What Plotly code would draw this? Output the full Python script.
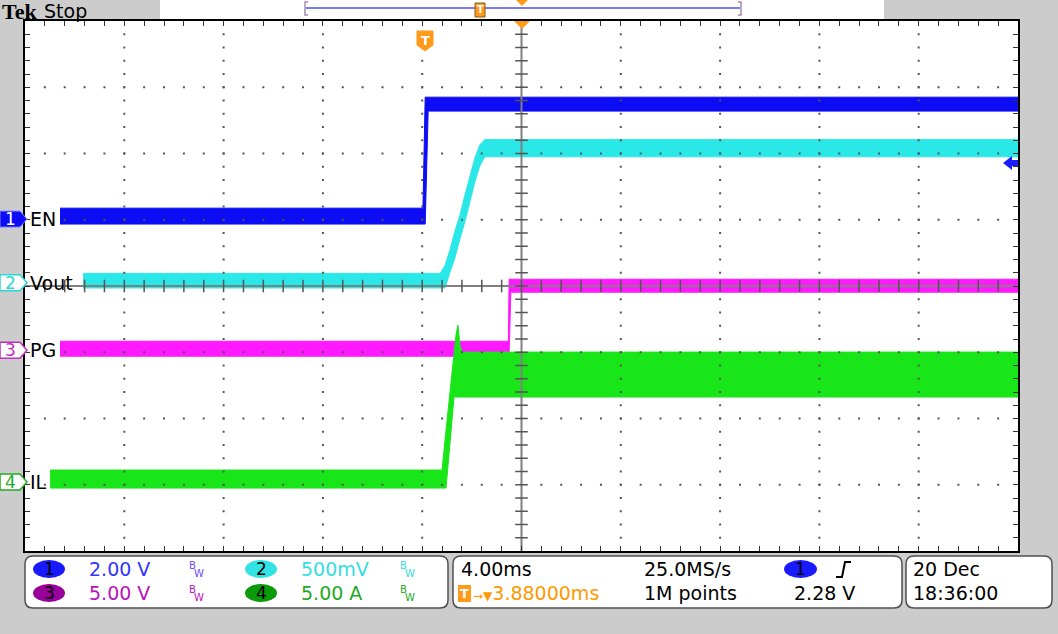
import numpy as np
import plotly.graph_objects as go

# ---------------- data (time in ms relative to trigger) ----------------
EN_t = [-14.71, -0.09, 0.0, 0.12, 23.88]
EN_hi = [0.33, 0.33, 3.68, 3.68, 3.68]
EN_lo = [-0.15, -0.15, -0.15, 3.26, 3.26]

VOUT_t = [-13.78, 0.6, 0.8, 1.0, 1.2, 1.4, 1.6, 1.8, 2.0, 2.2, 2.4, 23.88]
VOUT_hi = [0.07, 0.07, 0.13, 0.25, 0.39, 0.51, 0.66, 0.81, 0.94, 1.04, 1.08, 1.08]
VOUT_lo = [-0.04, -0.04, -0.04, 0.08, 0.19, 0.33, 0.46, 0.60, 0.76, 0.88, 0.95, 0.95]

PG_t = [-14.71, 3.35, 3.38, 3.45, 23.88]
PG_hi = [0.68, 0.68, 5.36, 5.36, 5.36]
PG_lo = [-0.45, -0.45, -0.45, 4.38, 4.38]

IL_t = [-15.11, 0.68, 0.84, 1.0, 1.16, 1.24, 1.32, 1.40, 1.48, 23.88]
IL_hi = [0.91, 0.91, 3.92, 6.94, 9.96, 11.09, 11.85, 10.34, 9.81, 9.81]
IL_lo = [-0.45, -0.45, -0.45, 2.94, 6.42, 6.42, 6.42, 6.42, 6.42, 6.42]

CH_NAMES = ["EN", "Vout", "PG", "IL"]
CH_SCALE = [2.0, 0.5, 5.0, 5.0]          # units per division
CH_GND = [1.01, 0.05, -0.97, -2.96]      # ground marker position, divisions
CH_COLORS = ["#0c0cf5", "#2ae8e8", "#ff19ff", "#19e619"]
SCALE_LABELS = ["2.00 V", "500mV", "5.00 V", "5.00 A"]
SCALE_COLORS = ["#3333ff", "#33dede", "#bb11bb", "#22aa22"]
BADGE_COLORS = ["#1a1aff", "#33e3e3", "#990099", "#0a9a0a"]

TIME_DIV = 4.0
T_CENTER = 3.88
H_DIVS, V_DIVS = 10, 8

HSCALE = "4.00ms"
SAMPLE = "25.0MS/s"
POINTS = "1M points"
TRIG_LEVEL = "2.28 V"
TRIG_POS = "3.88000ms"
DATE = "20 Dec"
TIME = "18:36:00"

# ---------------- geometry helpers ----------------
W, H = 1058, 634
L, R, T, B = 25, 1018, 21, 551


def px(x):
    return (x - L) / (R - L)


def py(y):
    return (B - y) / (B - T)


x_range = [T_CENTER - TIME_DIV * H_DIVS / 2, T_CENTER + TIME_DIV * H_DIVS / 2]
AXES = ["y", "y2", "y3", "y4"]          # EN on the base axis, others overlaid


def div_to_il(d):
    return (np.asarray(d, dtype=float) - CH_GND[3]) * CH_SCALE[3]


fig = go.Figure()

channels = [(EN_t, EN_hi, EN_lo), (VOUT_t, VOUT_hi, VOUT_lo),
            (PG_t, PG_hi, PG_lo), (IL_t, IL_hi, IL_lo)]
for i, (tt, hi, lo) in enumerate(channels):
    fig.add_trace(go.Scatter(
        x=list(tt) + list(tt[::-1]), y=list(hi) + list(lo[::-1]),
        fill="toself", fillcolor=CH_COLORS[i], mode="lines",
        line=dict(color=CH_COLORS[i], width=1),
        yaxis=AXES[i], hoverinfo="skip", name=CH_NAMES[i]))

# graticule dots (drawn above traces on the top overlay axis)
gx, gy = [], []
for k in range(-4, 5):
    if k == 0:
        continue
    xs = T_CENTER + k * TIME_DIV
    for yv in np.arange(-3.8, 3.81, 0.2):
        gx.append(xs); gy.append(yv)
for k in range(-3, 4):
    if k == 0:
        continue
    for xv in np.arange(x_range[0] + 0.8, x_range[1] - 0.1, 0.8):
        gx.append(xv); gy.append(k)
fig.add_trace(go.Scatter(x=gx, y=div_to_il(gy), mode="markers", yaxis="y4",
                         marker=dict(symbol="square", size=2, color="#555555"),
                         hoverinfo="skip"))

# crosshair
fig.add_trace(go.Scatter(x=[T_CENTER, T_CENTER], y=div_to_il([-4, 4]), mode="lines", yaxis="y4",
                         line=dict(color="#808080", width=2), hoverinfo="skip"))
fig.add_trace(go.Scatter(x=x_range, y=div_to_il([0, 0]), mode="lines", yaxis="y4",
                         line=dict(color="#808080", width=2), hoverinfo="skip"))
hx = list(np.arange(x_range[0] + 0.8, x_range[1] - 0.1, 0.8))
fig.add_trace(go.Scatter(x=hx, y=div_to_il([0] * len(hx)), mode="markers", yaxis="y4",
                         marker=dict(symbol="line-ns", size=9, line=dict(width=1.5, color="#555555")),
                         hoverinfo="skip"))
vy = list(np.arange(-3.8, 3.81, 0.2))
fig.add_trace(go.Scatter(x=[T_CENTER] * len(vy), y=div_to_il(vy), mode="markers", yaxis="y4",
                         marker=dict(symbol="line-ew", size=9, line=dict(width=1.5, color="#555555")),
                         hoverinfo="skip"))

shapes = []
ann = []


def rrect(x0, y0, x1, y1, r):
    rx = r / (R - L)
    ry = r / (B - T)
    X0, X1, Y0, Y1 = px(x0), px(x1), py(y1), py(y0)
    return (f"M {X0+rx},{Y0} L {X1-rx},{Y0} Q {X1},{Y0} {X1},{Y0+ry} "
            f"L {X1},{Y1-ry} Q {X1},{Y1} {X1-rx},{Y1} L {X0+rx},{Y1} "
            f"Q {X0},{Y1} {X0},{Y1-ry} L {X0},{Y0+ry} Q {X0},{Y0} {X0+rx},{Y0} Z")


def poly(pts):
    s = "M " + " L ".join(f"{px(a)},{py(b)}" for a, b in pts) + " Z"
    return s


def text(x, y, s, size=19, color="black", family="DejaVu Sans", anchor="left", yanchor="middle"):
    ann.append(dict(x=px(x), y=py(y), xref="paper", yref="paper", text=s, showarrow=False,
                    xanchor=anchor, yanchor=yanchor, borderpad=0,
                    font=dict(size=size, color=color, family=family)))


# top white strip
shapes.append(dict(type="rect", xref="paper", yref="paper", x0=px(160), x1=px(884),
                   y0=py(21), y1=py(0), fillcolor="white", line=dict(width=0), layer="below"))
text(1, 11, "<b>Tek</b>", size=22, family="Liberation Serif")
text(43, 11, "Stop", size=19)

# record view
shapes.append(dict(type="line", xref="paper", yref="paper", x0=px(306), x1=px(740), y0=py(8), y1=py(8),
                   line=dict(color="#7b7bef", width=2)))
for xb, d in [(305, 3), (741, -3)]:
    shapes.append(dict(type="path", xref="paper", yref="paper",
                       path=f"M {px(xb+d)},{py(2)} L {px(xb)},{py(2)} L {px(xb)},{py(15)} L {px(xb+d)},{py(15)}",
                       line=dict(color="#a090b0", width=1.5)))
shapes.append(dict(type="rect", xref="paper", yref="paper", x0=px(475), x1=px(485), y0=py(17), y1=py(3),
                   fillcolor="#ff9a1a", line=dict(color="#8a5a10", width=1)))
text(480, 10, "<b>T</b>", size=10, color="white", anchor="center")
shapes.append(dict(type="path", xref="paper", yref="paper", path=poly([(516, 0), (528, 0), (522, 6)]),
                   fillcolor="#ff9a1a", line=dict(width=0)))
# graticule trigger-position marker
shapes.append(dict(type="path", xref="paper", yref="paper", path=poly([(514, 21), (530, 21), (522, 29)]),
                   fillcolor="#ff9a1a", line=dict(width=0)))
# trigger T marker
shapes.append(dict(type="path", xref="paper", yref="paper",
                   path=poly([(417, 31), (433, 31), (433, 45), (425, 51), (417, 45)]),
                   fillcolor="#ff9a1a", line=dict(color="#ff9a1a", width=1)))
text(425, 40, "<b>T</b>", size=13, color="white", anchor="center")

# trigger level arrow (right side)
shapes.append(dict(type="path", xref="paper", yref="paper",
                   path=poly([(1003, 163), (1012, 156), (1012, 160), (1018, 160), (1018, 166),
                              (1012, 166), (1012, 170)]),
                   fillcolor="#1a1aff", line=dict(width=0)))

# channel ground badges + labels
for i in range(4):
    gy_px = 286 - CH_GND[i] * (B - T) / V_DIVS
    pts = [(0, gy_px - 8), (20, gy_px - 8), (27, gy_px), (20, gy_px + 8), (0, gy_px + 8)]
    if i == 0:
        shapes.append(dict(type="path", xref="paper", yref="paper", path=poly(pts),
                           fillcolor=CH_COLORS[0], line=dict(color="#8080ff", width=1)))
        text(10, gy_px, "1", size=17, color="white", anchor="center")
    else:
        edge = ["#2ad8d8", "#c030c0", "#22aa22"][i - 1]
        shapes.append(dict(type="path", xref="paper", yref="paper", path=poly(pts),
                           fillcolor="white", line=dict(color=edge, width=1.5)))
        text(10, gy_px, str(i + 1), size=17, color=edge, anchor="center")
    text(29, gy_px, CH_NAMES[i], size=19)

# bottom info boxes
for (x0, x1) in [(25, 448), (453, 902), (906, 1052)]:
    shapes.append(dict(type="path", xref="paper", yref="paper", path=rrect(x0, 556, x1, 608, 8),
                       fillcolor="white", line=dict(color="#505050", width=1.5)))

rows = [569, 593]
for i in range(4):
    r = rows[i // 2]
    bx = 33 if i % 2 == 0 else 245
    tx = 88 if i % 2 == 0 else 300
    wx = 188 if i % 2 == 0 else 399
    shapes.append(dict(type="circle", xref="paper", yref="paper", x0=px(bx), x1=px(bx + 32),
                       y0=py(r + 9), y1=py(r - 9), fillcolor=BADGE_COLORS[i], line=dict(width=0)))
    text(bx + 16, r, str(i + 1), size=17, anchor="center")
    text(tx, r, SCALE_LABELS[i], size=19, color=SCALE_COLORS[i])
    bwc = ["#6a4cf0", "#33dede", "#bb11bb", "#22aa22"][i]
    text(wx, r - 4, "B", size=10, color=bwc)
    text(wx + 5, r + 4, "W", size=10, color=bwc)

text(460, rows[0], HSCALE)
text(643, rows[0], SAMPLE)
shapes.append(dict(type="circle", xref="paper", yref="paper", x0=px(784), x1=px(817),
                   y0=py(rows[0] + 9), y1=py(rows[0] - 9), fillcolor="#1a1aff", line=dict(width=0)))
text(800, rows[0], "1", size=17, anchor="center")
shapes.append(dict(type="path", xref="paper", yref="paper",
                   path=f"M {px(836)},{py(577)} L {px(842)},{py(577)} L {px(845)},{py(562)} L {px(851)},{py(562)}",
                   line=dict(color="black", width=2)))
shapes.append(dict(type="rect", xref="paper", yref="paper", x0=px(458), x1=px(471), y0=py(602), y1=py(585),
                   fillcolor="#ff9a1a", line=dict(width=0)))
text(464.5, rows[1], "<b>T</b>", size=13, color="white", anchor="center")
text(472, rows[1], "<span style='font-size:12px'>→▼</span>" + TRIG_POS, size=19, color="#ff9900")
text(643, rows[1], POINTS)
text(793, rows[1], TRIG_LEVEL)
text(912, rows[0], DATE)
text(912, rows[1], TIME)

axis_common = dict(showgrid=False, zeroline=False, showline=True, linecolor="black", linewidth=2,
                   mirror="ticks", ticks="inside", ticklen=5, tickcolor="#333333", tickwidth=1,
                   showticklabels=False, layer="above traces", fixedrange=True)

s1, g1 = CH_SCALE[0], CH_GND[0]
layout = dict(
    width=W, height=H, margin=dict(l=L, r=W - R, t=T, b=H - B, pad=0),
    paper_bgcolor="#cccccc", plot_bgcolor="white", showlegend=False,
    shapes=shapes, annotations=ann,
    xaxis=dict(range=x_range, tick0=T_CENTER, dtick=TIME_DIV,
               minor=dict(tick0=T_CENTER, dtick=TIME_DIV / 5, ticks="inside", ticklen=5,
                          tickcolor="#333333", showgrid=False), **axis_common),
    yaxis=dict(range=[(-V_DIVS / 2 - g1) * s1, (V_DIVS / 2 - g1) * s1], tick0=-g1 * s1, dtick=s1,
               minor=dict(tick0=-g1 * s1, dtick=s1 / 5, ticks="inside", ticklen=5,
                          tickcolor="#333333", showgrid=False), **axis_common),
)
for i in range(1, 4):
    s, g = CH_SCALE[i], CH_GND[i]
    layout["yaxis%d" % (i + 1)] = dict(overlaying="y", range=[(-V_DIVS / 2 - g) * s, (V_DIVS / 2 - g) * s],
                                       visible=False, fixedrange=True)
fig.update_layout(**layout)

fig.write_html("out.html", config={"displayModeBar": False},
               post_script="document.body.style.margin='0';document.body.style.background='#cccccc';")
